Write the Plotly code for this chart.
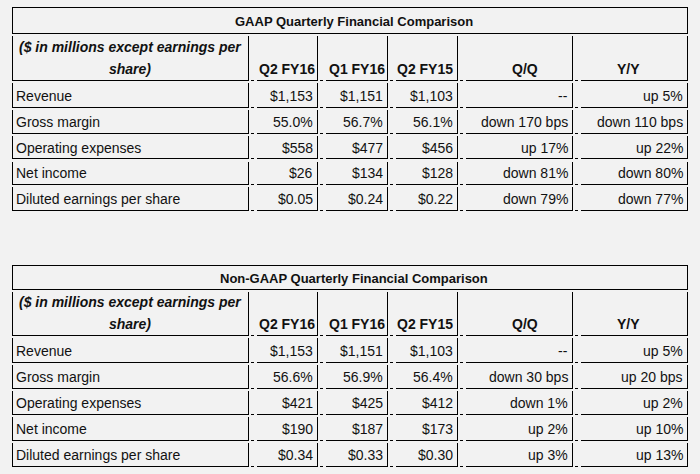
import plotly.graph_objects as go

# ---------------- data ----------------
titles = ["GAAP Quarterly Financial Comparison", "Non-GAAP Quarterly Financial Comparison"]
header_note = ["($ in millions except earnings per", "share)"]
columns = ["Q2 FY16", "Q1 FY16", "Q2 FY15", "Q/Q", "Y/Y"]
metrics = ["Revenue", "Gross margin", "Operating expenses", "Net income", "Diluted earnings per share"]

gaap_q2fy16 = ["$1,153", "55.0%", "$558", "$26", "$0.05"]
gaap_q1fy16 = ["$1,151", "56.7%", "$477", "$134", "$0.24"]
gaap_q2fy15 = ["$1,103", "56.1%", "$456", "$128", "$0.22"]
gaap_qq = ["--", "down 170 bps", "up 17%", "down 81%", "down 79%"]
gaap_yy = ["up 5%", "down 110 bps", "up 22%", "down 80%", "down 77%"]

nongaap_q2fy16 = ["$1,153", "56.6%", "$421", "$190", "$0.34"]
nongaap_q1fy16 = ["$1,151", "56.9%", "$425", "$187", "$0.33"]
nongaap_q2fy15 = ["$1,103", "56.4%", "$412", "$173", "$0.30"]
nongaap_qq = ["--", "down 30 bps", "down 1%", "up 2%", "up 3%"]
nongaap_yy = ["up 5%", "up 20 bps", "up 2%", "up 10%", "up 13%"]

# ---------------- layout / style ----------------
W, H = 700, 474
BG = "#f2f2f2"
LINE = "#000000"
TXT = "#111111"
FONT = "Liberation Sans"
FS = 14
FS_TITLE = 13
FS_HEAD = 14

X_LEFT = 12
COL_RIGHT = [248, 317, 387, 457, 572, 687]
HEADER_SHIFT = [0, 0, 0, -2, 6, -6]

tables = [
    dict(title=titles[0],
         cols=[gaap_q2fy16, gaap_q1fy16, gaap_q2fy15, gaap_qq, gaap_yy],
         top=7, title_bottom=33, header_top=36, header_bottom=80,
         first_bottom=107, pitch=25.75),
    dict(title=titles[1],
         cols=[nongaap_q2fy16, nongaap_q1fy16, nongaap_q2fy15, nongaap_qq, nongaap_yy],
         top=265, title_bottom=289, header_top=292, header_bottom=335,
         first_bottom=362, pitch=26),
]

fig = go.Figure()
# invisible trace to establish the pixel-scaled axes
fig.add_trace(go.Scatter(x=[0, W], y=[0, H], mode="markers",
                         marker=dict(opacity=0), hoverinfo="skip", showlegend=False))

shapes = []
annotations = []


def px(v):
    return round(v) + 0.5


def hline(x0, x1, y):
    shapes.append(dict(type="line", xref="x", yref="y", x0=round(x0), x1=round(x1) + 1,
                       y0=px(y), y1=px(y), line=dict(color=LINE, width=1)))


def vline(x, y0, y1):
    shapes.append(dict(type="line", xref="x", yref="y", x0=px(x), x1=px(x),
                       y0=round(y0), y1=round(y1) + 1, line=dict(color=LINE, width=1)))


def cell_borders(ci, top, bottom):
    r = COL_RIGHT[ci]
    if ci == 0:
        vline(X_LEFT, top, bottom)
        hline(X_LEFT, r, bottom)
    else:
        lb = COL_RIGHT[ci - 1]
        hline(lb + 3, lb + 5, bottom)
        hline(lb + 9, r, bottom)
    vline(r, top, bottom)


def text(x, y, s, xanchor, size, bold=False, italic=False, xshift=0):
    s2 = s.replace("$", "&#36;")
    if bold:
        s2 = "<b>" + s2 + "</b>"
    if italic:
        s2 = "<i>" + s2 + "</i>"
    annotations.append(dict(x=x, y=y, xref="x", yref="y", text=s2, showarrow=False,
                            xanchor=xanchor, yanchor="middle", xshift=xshift,
                            font=dict(family=FONT, size=size, color=TXT)))


for t in tables:
    # title row
    hline(X_LEFT, COL_RIGHT[-1], t["top"])
    hline(X_LEFT, COL_RIGHT[-1], t["title_bottom"])
    vline(X_LEFT, t["top"], t["title_bottom"])
    vline(COL_RIGHT[-1], t["top"], t["title_bottom"])
    text((X_LEFT + COL_RIGHT[-1]) / 2 + 4, (t["top"] + t["title_bottom"]) / 2 + 1,
         t["title"], "center", FS_TITLE, bold=True)

    # header row
    hb = t["header_bottom"]
    for ci in range(len(COL_RIGHT)):
        cell_borders(ci, t["header_top"], hb)
    text((X_LEFT + COL_RIGHT[0]) / 2, hb - 33, header_note[0], "center", FS_HEAD, bold=True, italic=True)
    text((X_LEFT + COL_RIGHT[0]) / 2, hb - 11, header_note[1], "center", FS_HEAD, bold=True, italic=True)
    for j, name in enumerate(columns):
        ci = j + 1
        cx = (COL_RIGHT[ci - 1] + 9 + COL_RIGHT[ci]) / 2
        text(cx, hb - 11, name, "center", FS_HEAD, bold=True, xshift=HEADER_SHIFT[ci])

    # data rows
    prev_bottom = hb
    for ri, label in enumerate(metrics):
        bottom = t["first_bottom"] + ri * t["pitch"]
        top = prev_bottom + 3
        for ci in range(len(COL_RIGHT)):
            cell_borders(ci, top, bottom)
        cy = (top + bottom) / 2 + 0.5
        text(X_LEFT + 2, cy, label, "left", FS)
        for j, col in enumerate(t["cols"]):
            text(COL_RIGHT[j + 1] - 2, cy, col[ri], "right", FS)
        prev_bottom = bottom

fig.update_layout(
    width=W, height=H,
    margin=dict(l=0, r=0, t=0, b=0),
    paper_bgcolor=BG, plot_bgcolor=BG,
    xaxis=dict(range=[0, W], visible=False, fixedrange=True),
    yaxis=dict(range=[H, 0], visible=False, fixedrange=True),
    shapes=shapes, annotations=annotations,
    showlegend=False,
)

fig.write_html("out.html", config={"displayModeBar": False},
               post_script="document.body.style.margin='0';document.body.style.overflow='hidden';document.body.style.background='#f2f2f2';")
